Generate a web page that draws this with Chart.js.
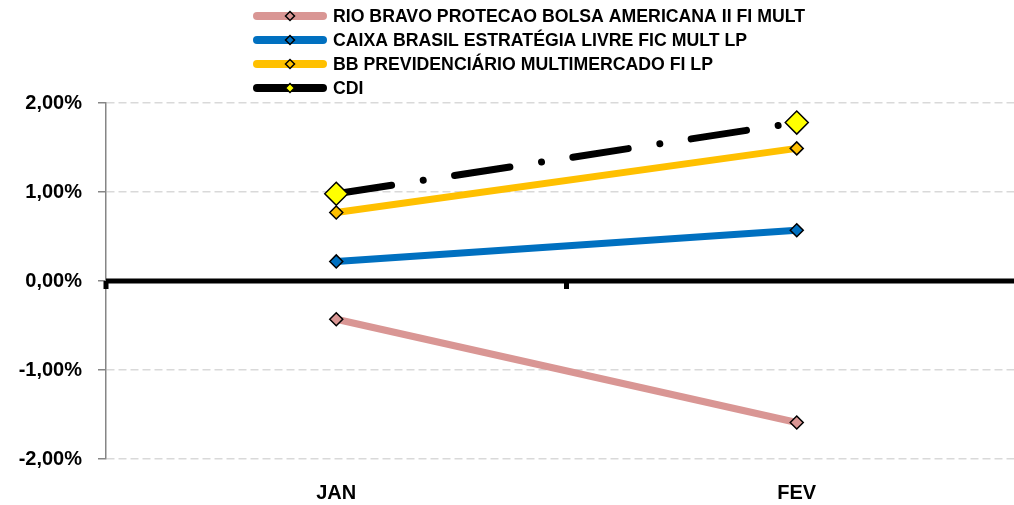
<!DOCTYPE html>
<html>
<head>
<meta charset="utf-8">
<script src="https://cdn.jsdelivr.net/npm/chart.js@4/dist/chart.umd.min.js"></script>
<style>
  html, body { margin: 0; padding: 0; background: #fff; overflow: hidden; width: 1014px; height: 505px; }
  #wrap { position: relative; width: 1040px; height: 505px; }
</style>
</head>
<body>
<div id="wrap"><canvas id="c" width="1040" height="505"></canvas></div>
<script>
// ---- data ----
const categories = ['JAN', 'FEV'];
const seriesNames = [
  'RIO BRAVO PROTECAO BOLSA AMERICANA II FI MULT',
  'CAIXA BRASIL ESTRATÉGIA LIVRE FIC MULT LP',
  'BB PREVIDENCIÁRIO MULTIMERCADO FI LP',
  'CDI'
];
const rioBravo = [-0.43, -1.59];
const caixa = [0.22, 0.57];
const bbPrev = [0.77, 1.49];
const cdi = [0.98, 1.78];
const yTickValues = [-2, -1, 0, 1, 2];
const yTickLabels = ['-2,00%', '-1,00%', '0,00%', '1,00%', '2,00%'];

const FONT = "'Liberation Sans', Arial, sans-serif";
Chart.defaults.font.family = FONT;
Chart.defaults.color = '#000';

const seriesStyle = [
  { color: '#d99694', marker: '#d99694', radius: 6.5, dash: [], cap: 'butt', order: 3 },
  { color: '#0070c0', marker: '#0070c0', radius: 6.5, dash: [], cap: 'butt', order: 2 },
  { color: '#ffc000', marker: '#ffc000', radius: 6.5, dash: [], cap: 'butt', order: 1 },
  { color: '#000000', marker: '#ffff00', radius: 11.5, dash: [56, 32, 0.01, 31.7], cap: 'round', order: 0 }
];
const seriesData = [rioBravo, caixa, bbPrev, cdi];

const datasets = seriesNames.map((name, i) => ({
  label: name,
  data: seriesData[i],
  borderColor: seriesStyle[i].color,
  backgroundColor: seriesStyle[i].marker,
  borderWidth: 7,
  borderDash: seriesStyle[i].dash,
  borderCapStyle: seriesStyle[i].cap,
  pointStyle: 'rectRot',
  pointRadius: seriesStyle[i].radius,
  pointHoverRadius: seriesStyle[i].radius,
  pointBackgroundColor: seriesStyle[i].marker,
  pointBorderColor: '#000',
  pointBorderWidth: 1.5,
  tension: 0,
  order: seriesStyle[i].order
}));

// zero axis line with tick marks between categories
const zeroLinePlugin = {
  id: 'zeroLine',
  beforeDatasetsDraw(chart) {
    const { ctx, chartArea, scales: { y } } = chart;
    const y0 = y.getPixelForValue(0);
    ctx.save();
    ctx.strokeStyle = '#000';
    ctx.lineWidth = 5;
    ctx.beginPath();
    ctx.moveTo(chartArea.left, y0);
    ctx.lineTo(chartArea.right, y0);
    ctx.stroke();
    const n = categories.length;
    const w = (chartArea.right - chartArea.left) / n;
    for (let i = 0; i <= n; i++) {
      const px = chartArea.left + i * w;
      ctx.beginPath();
      ctx.moveTo(px, y0);
      ctx.lineTo(px, y0 + 8);
      ctx.stroke();
    }
    ctx.restore();
  }
};

// custom legend: thick line + diamond marker + bold text
const legendPlugin = {
  id: 'customLegend',
  afterDraw(chart) {
    const { ctx } = chart;
    const rows = [16, 40, 64, 88];
    ctx.save();
    chart.data.datasets.forEach((ds, i) => {
      const yy = rows[i];
      ctx.strokeStyle = ds.borderColor;
      ctx.lineWidth = 8;
      ctx.lineCap = 'round';
      ctx.setLineDash([]);
      ctx.beginPath();
      ctx.moveTo(257, yy);
      ctx.lineTo(323, yy);
      ctx.stroke();
      const r = 4.5;
      ctx.fillStyle = ds.pointBackgroundColor;
      ctx.strokeStyle = '#000';
      ctx.lineWidth = 1.5;
      ctx.lineCap = 'butt';
      ctx.beginPath();
      ctx.moveTo(290 - r, yy);
      ctx.lineTo(290, yy - r);
      ctx.lineTo(290 + r, yy);
      ctx.lineTo(290, yy + r);
      ctx.closePath();
      ctx.fill();
      ctx.stroke();
      ctx.fillStyle = '#000';
      ctx.font = 'bold 17.7px ' + FONT;
      ctx.textBaseline = 'middle';
      ctx.textAlign = 'left';
      ctx.fillText(ds.label, 333, yy + 1);
    });
    ctx.restore();
  }
};

new Chart(document.getElementById('c'), {
  type: 'line',
  data: { labels: categories, datasets },
  plugins: [zeroLinePlugin, legendPlugin],
  options: {
    responsive: false,
    animation: false,
    events: [],
    layout: { padding: { top: 103, left: 0, right: 3, bottom: 0 } },
    plugins: { legend: { display: false }, tooltip: { enabled: false }, title: { display: false } },
    scales: {
      x: {
        type: 'category',
        offset: true,
        grid: { display: false, drawTicks: false },
        border: { display: false },
        ticks: { font: { size: 20, weight: 'bold' }, padding: 22, color: '#000', maxRotation: 0 },
        afterFit(scale) { scale.height = 46; }
      },
      y: {
        min: -2,
        max: 2,
        ticks: {
          stepSize: 1,
          padding: 16,
          color: '#000',
          font: { size: 20, weight: 'bold' },
          callback: (v) => {
            const k = yTickValues.indexOf(v);
            return k >= 0 ? yTickLabels[k] : '';
          }
        },
        grid: {
          color: '#d9d9d9',
          lineWidth: 1.5,
          drawTicks: true,
          tickLength: 8,
          tickColor: '#868686',
          tickWidth: 1.5,
          tickBorderDash: []
        },
        border: { display: true, color: '#868686', width: 1.5, dash: [8, 4] },
        afterFit(scale) { scale.width = 106; }
      }
    }
  }
});
</script>
</body>
</html>
